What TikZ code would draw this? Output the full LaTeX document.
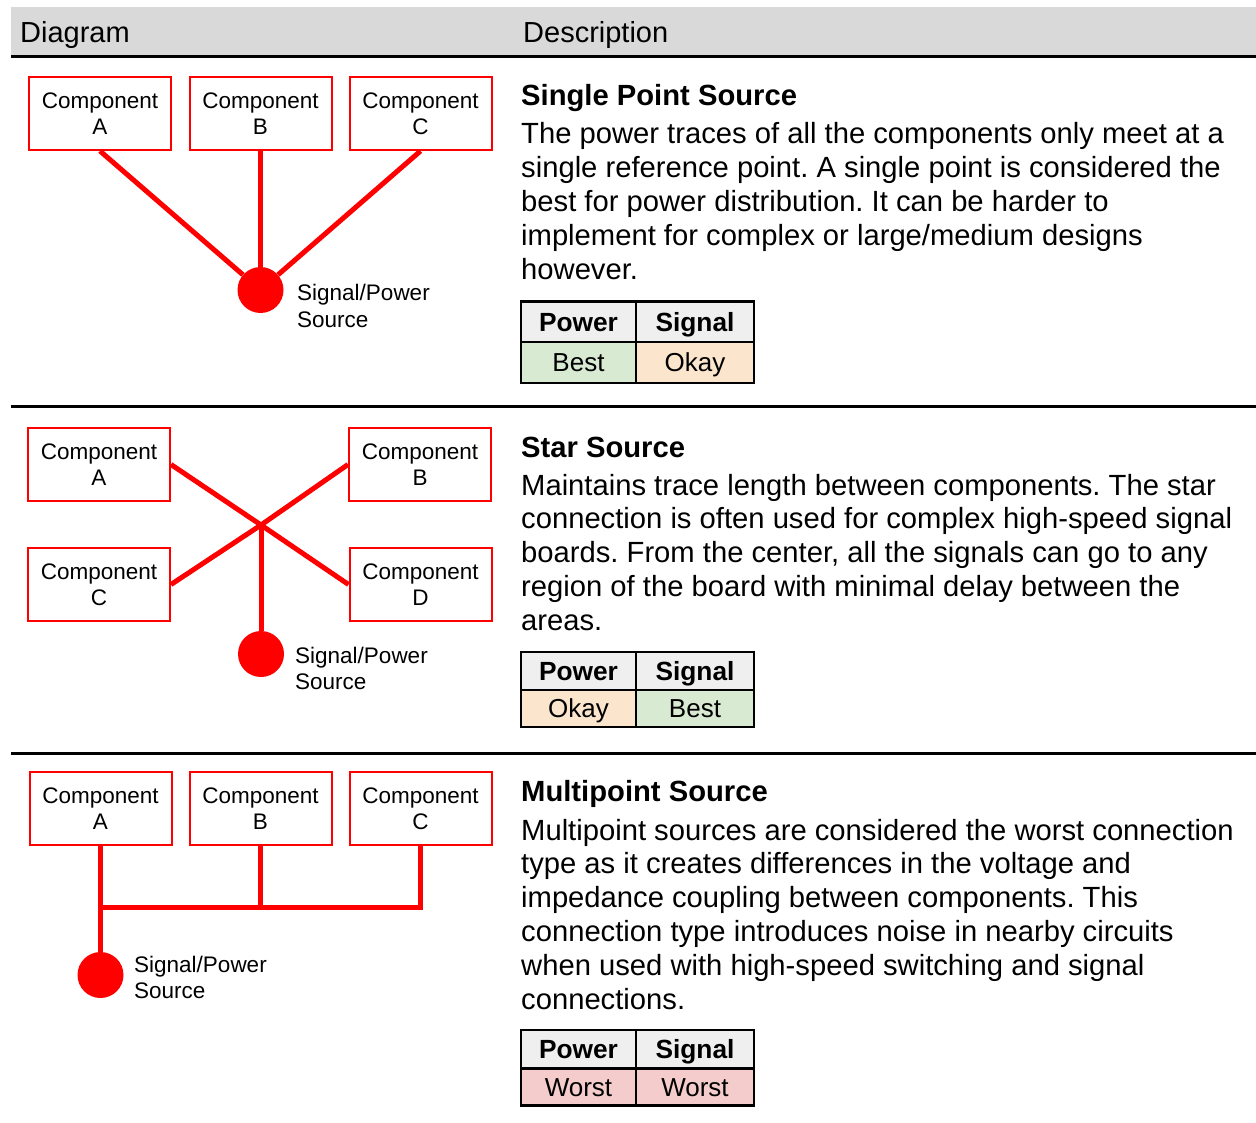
\documentclass[tikz,border=0pt]{standalone}
\usepackage{fontspec}
\setmainfont{Liberation Sans}
\frenchspacing
\definecolor{hdrgray}{HTML}{D9D9D9}
\definecolor{cellhdr}{HTML}{EFEFEF}
\definecolor{cellgood}{HTML}{D9EAD3}
\definecolor{cellok}{HTML}{FCE5CD}
\definecolor{cellbad}{HTML}{F4CCCC}
\begin{document}
\begin{tikzpicture}[x=1pt,y=-1pt,
  comp/.style={draw=red, line width=2, minimum width=142, minimum height=73, inner sep=0, align=center, font=\fontsize{22.5}{26}\selectfont},
  src/.style={circle, fill=red, minimum size=46, inner sep=0},
  trace/.style={red, line width=5},
  srclabel/.style={anchor=base west, inner sep=0, align=left, font=\fontsize{22.5}{26}\selectfont},
  hdrtext/.style={anchor=base west, inner sep=0, font=\fontsize{29}{34}\selectfont},
  titletext/.style={anchor=base west, inner sep=0, font=\fontsize{29.2}{34}\bfseries\selectfont},
  bodytext/.style={anchor=base west, inner sep=0, align=left, font=\fontsize{29.2}{33.8}\selectfont},
  cell/.style={draw=black, line width=2.5, inner sep=0, text height=22, text depth=3.4, font=\fontsize{26}{30}\selectfont},
  cellhead/.style={cell, fill=cellhdr, font=\fontsize{26.3}{30}\bfseries\selectfont},
  rulel/.style={black, line width=3}]
\useasboundingbox (0,0) rectangle (1256,1123);

% header
\fill[hdrgray] (11,7) rectangle (1256,56);
\node[hdrtext] (hdiag) at (20,43) {Diagram};
\node[hdrtext] (hdesc) at (523,43) {Description};
\draw[rulel] (11,57) -- (1256,57);
\draw[rulel] (11,406) -- (1256,406);
\draw[rulel] (11,753) -- (1256,753);

% ---- section 1 ----
\node[comp] (a1) at (100,113.5) {Component\\A};
\node[comp] (b1) at (260.5,113.5) {Component\\B};
\node[comp] (c1) at (420.5,113.5) {Component\\C};
\node[src] (s1) at (260.5,290) {};
\draw[trace] (a1.south) -- (s1);
\draw[trace] (b1.south) -- (s1);
\draw[trace] (c1.south) -- (s1);
\node[srclabel] (l1) at (297,327) {Signal/Power\\Source};

\node[titletext] (t1) at (521,106) {Single Point Source};
\node[bodytext] (d1) at (521,279.2) {The power traces of all the components only meet at a\\single reference point. A single point is considered the\\best for power distribution. It can be harder to\\implement for complex or large/medium designs\\however.};
\node[cellhead, minimum width=115, minimum height=40.5] (p1h) at (578.5,322) {Power};
\node[cellhead, minimum width=118, minimum height=40.5] (g1h) at (695,322) {Signal};
\node[cell, fill=cellgood, minimum width=115, minimum height=40.5] (p1v) at (578.5,362.5) {Best};
\node[cell, fill=cellok, minimum width=118, minimum height=40.5] (g1v) at (695,362.5) {Okay};

% ---- section 2 ----
\node[comp] (a2) at (99,464.5) {Component\\A};
\node[comp] (b2) at (420,464.5) {Component\\B};
\node[comp] (c2) at (99,584.5) {Component\\C};
\node[comp] (d2) at (420.5,584.5) {Component\\D};
\coordinate (x2) at (261,525);
\node[src] (s2) at (261,654) {};
\draw[trace, line join=round] (a2.east) -- (x2) -- (d2.west);
\draw[trace, line join=round] (b2.west) -- (x2) -- (c2.east);
\draw[trace] (x2) -- (s2);
\node[srclabel] (l2) at (295,689) {Signal/Power\\Source};

\node[titletext] (t2) at (521,457) {Star Source};
\node[bodytext] (d2t) at (521,630.2) {Maintains trace length between components. The star\\connection is often used for complex high-speed signal\\boards. From the center, all the signals can go to any\\region of the board with minimal delay between the\\areas.};
\node[cellhead, minimum width=115, minimum height=38] (p2h) at (578.5,671) {Power};
\node[cellhead, minimum width=118, minimum height=38] (g2h) at (695,671) {Signal};
\node[cell, fill=cellok, minimum width=115, minimum height=37] (p2v) at (578.5,708.5) {Okay};
\node[cell, fill=cellgood, minimum width=118, minimum height=37] (g2v) at (695,708.5) {Best};

% ---- section 3 ----
\node[comp] (a3) at (100.5,808.5) {Component\\A};
\node[comp] (b3) at (260.5,808.5) {Component\\B};
\node[comp] (c3) at (420.5,808.5) {Component\\C};
\node[src] (s3) at (100.5,975) {};
\coordinate (j3) at (100.5,907);
\draw[trace] (a3.south) -- (s3);
\draw[trace, line join=miter] (c3.south) |- (j3);
\draw[trace] (b3.south) -- (b3.south |- j3);
\node[srclabel] (l3) at (134,998) {Signal/Power\\Source};

\node[titletext] (t3) at (521,801) {Multipoint Source};
\node[bodytext] (d3) at (521,1009) {Multipoint sources are considered the worst connection\\type as it creates differences in the voltage and\\impedance coupling between components. This\\connection type introduces noise in nearby circuits\\when used with high-speed switching and signal\\connections.};
\node[cellhead, minimum width=115, minimum height=39] (p3h) at (578.5,1049.5) {Power};
\node[cellhead, minimum width=118, minimum height=39] (g3h) at (695,1049.5) {Signal};
\node[cell, fill=cellbad, minimum width=115, minimum height=37] (p3v) at (578.5,1087) {Worst};
\node[cell, fill=cellbad, minimum width=118, minimum height=37] (g3v) at (695,1087) {Worst};
\end{tikzpicture}
\end{document}
